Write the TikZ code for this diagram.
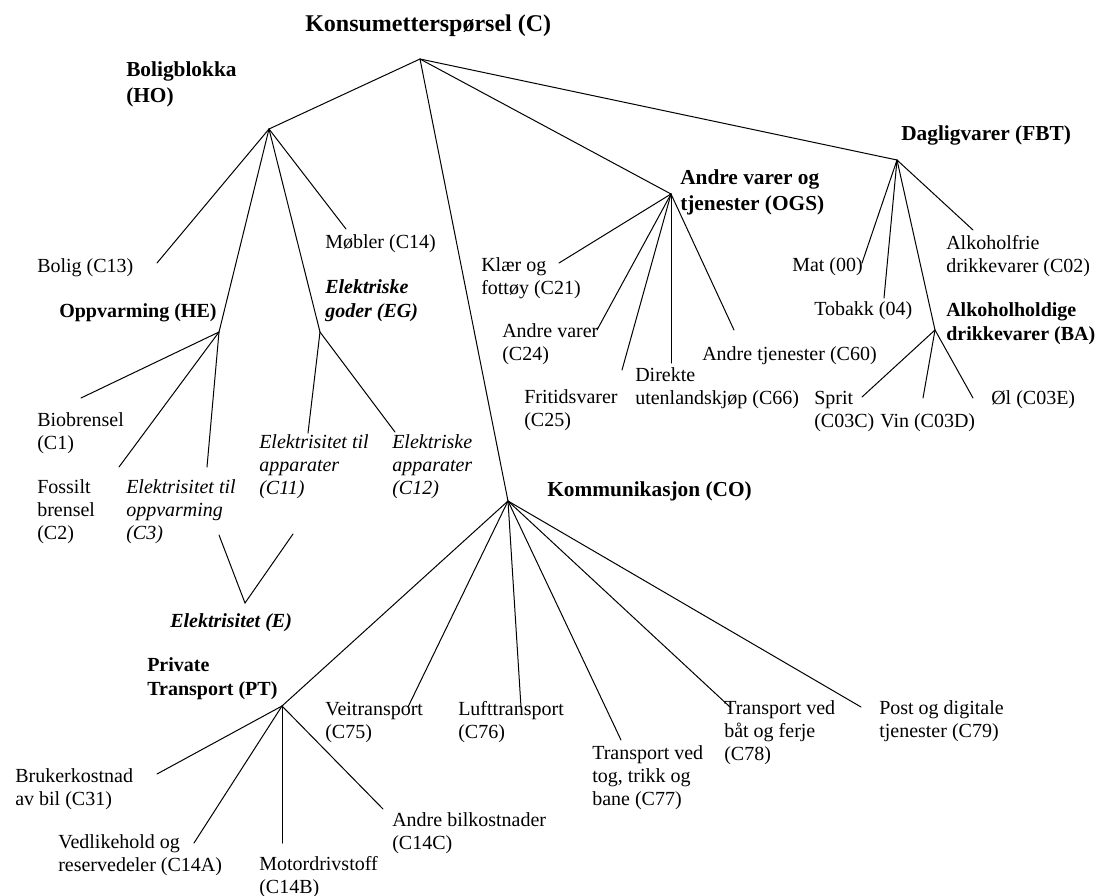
\documentclass[tikz,border=0pt]{standalone}
\usepackage{fontspec}
\setmainfont{Liberation Serif}
\begin{document}
\begin{tikzpicture}[x=0.75pt,y=-0.75pt,
  lbl/.style={anchor=base west,inner sep=0pt,align=left,font=\fontsize{15}{17.25}\selectfont},
  itl/.style={lbl,font=\fontsize{15}{17.25}\selectfont\itshape},
  hd/.style={lbl,font=\fontsize{16}{19}\selectfont\bfseries},
  hdtwo/.style={lbl,font=\fontsize{15}{17.6}\selectfont\bfseries},
  hdit/.style={lbl,font=\fontsize{15}{17.6}\selectfont\bfseries\itshape},
  edge/.style={line width=0.75pt,line cap=round}]
\useasboundingbox (0,0) rectangle (1096,896);

% headers (anchor = baseline of last line)
\node[lbl,font=\fontsize{18}{21}\selectfont\bfseries] (tC) at (305,31) {Konsumetterspørsel (C)};
\node[hd] (tHO) at (126,102) {Boligblokka\\(HO)};
\node[hd] (tFBT) at (901,140) {Dagligvarer (FBT)};
\node[hd] (tOGS) at (680,210) {Andre varer og\\tjenester (OGS)};
\node[hd] (tCO) at (547,496) {Kommunikasjon (CO)};
\node[hdtwo] (tHE) at (59,317) {Oppvarming (HE)};
\node[hdit] (tEG) at (325,317) {Elektriske\\goder (EG)};
\node[hdtwo] (tBA) at (946,340) {Alkoholholdige\\drikkevarer (BA)};
\node[hdtwo] (tPT) at (147,695) {Private\\Transport (PT)};
\node[hdit] (tE) at (170,627) {Elektrisitet (E)};

% leaves
\node[lbl] (lBolig) at (37,272) {Bolig (C13)};
\node[lbl] (lMob) at (325,248) {Møbler (C14)};
\node[lbl] (lKlaer) at (481,294) {Klær og\\fottøy (C21)};
\node[lbl] (lAV) at (502,360) {Andre varer\\(C24)};
\node[lbl] (lFrit) at (524,426) {Fritidsvarer\\(C25)};
\node[lbl] (lDir) at (635,404) {Direkte\\utenlandskjøp (C66)};
\node[lbl] (lAT) at (702,360) {Andre tjenester (C60)};
\node[lbl] (lMat) at (792,271) {Mat (00)};
\node[lbl] (lTob) at (814,315) {Tobakk (04)};
\node[lbl] (lAlkf) at (946,272) {Alkoholfrie\\drikkevarer (C02)};
\node[lbl] (lSprit) at (814,427) {Sprit\\(C03C)};
\node[lbl] (lVin) at (880,427) {Vin (C03D)};
\node[lbl] (lOl) at (991,404) {Øl (C03E)};
\node[lbl] (lBio) at (37,449) {Biobrensel\\(C1)};
\node[lbl] (lFos) at (37,539) {Fossilt\\brensel\\(C2)};
\node[itl] (lC3) at (126,539) {Elektrisitet til\\oppvarming\\(C3)};
\node[itl] (lC11) at (259,494) {Elektrisitet til\\apparater\\(C11)};
\node[itl] (lC12) at (392,494) {Elektriske\\apparater\\(C12)};
\node[lbl] (lVei) at (325,738) {Veitransport\\(C75)};
\node[lbl] (lLuft) at (458,738) {Lufttransport\\(C76)};
\node[lbl] (lTog) at (592,805) {Transport ved\\tog, trikk og\\bane (C77)};
\node[lbl] (lBat) at (724,760) {Transport ved\\båt og ferje\\(C78)};
\node[lbl] (lPost) at (879,737) {Post og digitale\\tjenester (C79)};
\node[lbl] (lBruk) at (15,805) {Brukerkostnad\\av bil (C31)};
\node[lbl] (lVedl) at (58,871) {Vedlikehold og\\reservedeler (C14A)};
\node[lbl] (lMotor) at (259,893) {Motordrivstoff\\(C14B)};
\node[lbl] (lAndreBil) at (392,849) {Andre bilkostnader\\(C14C)};

% junctions
\coordinate (R) at (420,59);
\coordinate (HOj) at (269,129);
\coordinate (COj) at (508,501);
\coordinate (OGSj) at (671,194);
\coordinate (FBTj) at (897,160);
\coordinate (HEj) at (219,332);
\coordinate (EGj) at (320,332);
\coordinate (BAj) at (935,330);
\coordinate (PTj) at (282,706);
\coordinate (Vl) at (219,535);
\coordinate (Vb) at (245,603);
\coordinate (Vr) at (293,534);

% line ends
\coordinate (eBolig) at (157,263);
\coordinate (eMob) at (346,229);
\coordinate (eBio) at (81,398);
\coordinate (eFos) at (119,467);
\coordinate (eC3) at (207,467);
\coordinate (eC11) at (308,433);
\coordinate (eC12) at (395,432);
\coordinate (eKlaer) at (559,263);
\coordinate (eAV) at (597,330);
\coordinate (eFrit) at (622,370);
\coordinate (eDir) at (671,363);
\coordinate (eAT) at (734,330);
\coordinate (eMat) at (862,263);
\coordinate (eTob) at (884,298);
\coordinate (eAlkf) at (973,230);
\coordinate (eSprit) at (862,397);
\coordinate (eVin) at (923,398);
\coordinate (eOl) at (973,398);
\coordinate (eVei) at (408,707);
\coordinate (eLuft) at (521,707);
\coordinate (eTog) at (621,740);
\coordinate (eBat) at (730,707);
\coordinate (ePost) at (861,707);
\coordinate (eBruk) at (157,774);
\coordinate (eVedl) at (194,843);
\coordinate (eMotor) at (282,843);
\coordinate (eAndreBil) at (383,809);

% connectors
\draw[edge] (R) -- (HOj);
\draw[edge] (R) -- (COj);
\draw[edge] (R) -- (OGSj);
\draw[edge] (R) -- (FBTj);
\draw[edge] (HOj) -- (eBolig);
\draw[edge] (HOj) -- (HEj);
\draw[edge] (HOj) -- (EGj);
\draw[edge] (HOj) -- (eMob);
\draw[edge] (HEj) -- (eBio);
\draw[edge] (HEj) -- (eFos);
\draw[edge] (HEj) -- (eC3);
\draw[edge] (EGj) -- (eC11);
\draw[edge] (EGj) -- (eC12);
\draw[edge] (Vl) -- (Vb) -- (Vr);
\draw[edge] (OGSj) -- (eKlaer);
\draw[edge] (OGSj) -- (eAV);
\draw[edge] (OGSj) -- (eFrit);
\draw[edge] (OGSj) -- (eDir);
\draw[edge] (OGSj) -- (eAT);
\draw[edge] (FBTj) -- (eMat);
\draw[edge] (FBTj) -- (eTob);
\draw[edge] (FBTj) -- (BAj);
\draw[edge] (FBTj) -- (eAlkf);
\draw[edge] (BAj) -- (eSprit);
\draw[edge] (BAj) -- (eVin);
\draw[edge] (BAj) -- (eOl);
\draw[edge] (COj) -- (PTj);
\draw[edge] (COj) -- (eVei);
\draw[edge] (COj) -- (eLuft);
\draw[edge] (COj) -- (eTog);
\draw[edge] (COj) -- (eBat);
\draw[edge] (COj) -- (ePost);
\draw[edge] (PTj) -- (eBruk);
\draw[edge] (PTj) -- (eVedl);
\draw[edge] (PTj) -- (eMotor);
\draw[edge] (PTj) -- (eAndreBil);
\end{tikzpicture}
\end{document}
